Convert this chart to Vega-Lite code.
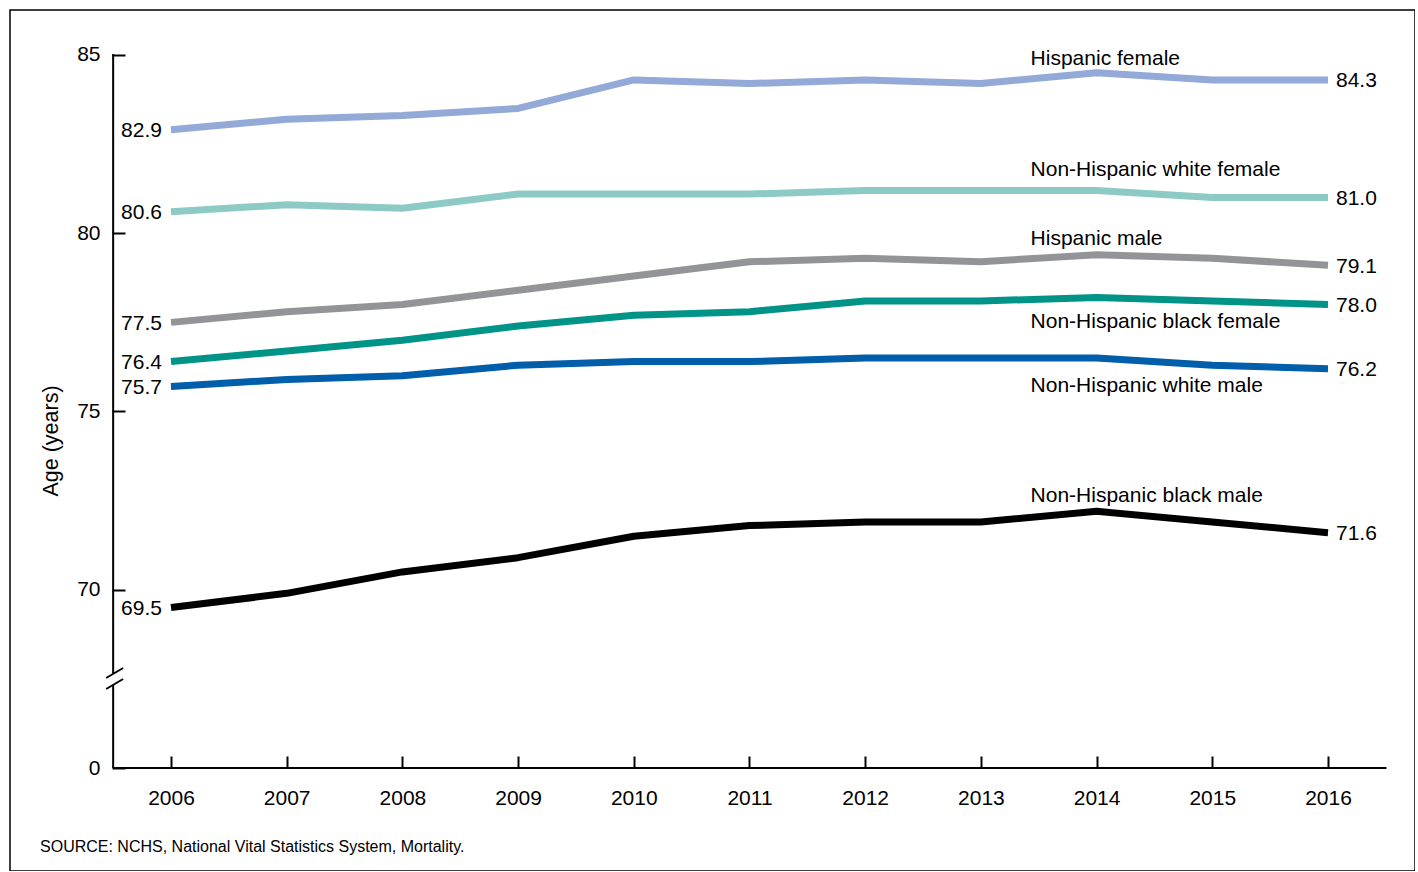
{
  "$schema": "https://vega.github.io/schema/vega-lite/v6.json",
  "autosize": {"type": "none"},
  "padding": {"left": 10, "top": 10, "right": 0, "bottom": 0},
  "width": 1405,
  "height": 861,
  "background": "white",
  "config": {
    "view": {"stroke": "black", "strokeWidth": 1.5},
    "font": "Liberation Sans",
    "text": {"font": "Liberation Sans", "fontSize": 21, "color": "black"},
    "axis": {"labelFont": "Liberation Sans", "titleFont": "Liberation Sans", "labelColor": "black", "titleColor": "black"}
  },
  "datasets": {
    "life": [
      {"year": 2006, "series": "Hispanic female", "age": 82.9},
      {"year": 2007, "series": "Hispanic female", "age": 83.2},
      {"year": 2008, "series": "Hispanic female", "age": 83.3},
      {"year": 2009, "series": "Hispanic female", "age": 83.5},
      {"year": 2010, "series": "Hispanic female", "age": 84.3},
      {"year": 2011, "series": "Hispanic female", "age": 84.2},
      {"year": 2012, "series": "Hispanic female", "age": 84.3},
      {"year": 2013, "series": "Hispanic female", "age": 84.2},
      {"year": 2014, "series": "Hispanic female", "age": 84.5},
      {"year": 2015, "series": "Hispanic female", "age": 84.3},
      {"year": 2016, "series": "Hispanic female", "age": 84.3},
      {"year": 2006, "series": "Non-Hispanic white female", "age": 80.6},
      {"year": 2007, "series": "Non-Hispanic white female", "age": 80.8},
      {"year": 2008, "series": "Non-Hispanic white female", "age": 80.7},
      {"year": 2009, "series": "Non-Hispanic white female", "age": 81.1},
      {"year": 2010, "series": "Non-Hispanic white female", "age": 81.1},
      {"year": 2011, "series": "Non-Hispanic white female", "age": 81.1},
      {"year": 2012, "series": "Non-Hispanic white female", "age": 81.2},
      {"year": 2013, "series": "Non-Hispanic white female", "age": 81.2},
      {"year": 2014, "series": "Non-Hispanic white female", "age": 81.2},
      {"year": 2015, "series": "Non-Hispanic white female", "age": 81.0},
      {"year": 2016, "series": "Non-Hispanic white female", "age": 81.0},
      {"year": 2006, "series": "Hispanic male", "age": 77.5},
      {"year": 2007, "series": "Hispanic male", "age": 77.8},
      {"year": 2008, "series": "Hispanic male", "age": 78.0},
      {"year": 2009, "series": "Hispanic male", "age": 78.4},
      {"year": 2010, "series": "Hispanic male", "age": 78.8},
      {"year": 2011, "series": "Hispanic male", "age": 79.2},
      {"year": 2012, "series": "Hispanic male", "age": 79.3},
      {"year": 2013, "series": "Hispanic male", "age": 79.2},
      {"year": 2014, "series": "Hispanic male", "age": 79.4},
      {"year": 2015, "series": "Hispanic male", "age": 79.3},
      {"year": 2016, "series": "Hispanic male", "age": 79.1},
      {"year": 2006, "series": "Non-Hispanic black female", "age": 76.4},
      {"year": 2007, "series": "Non-Hispanic black female", "age": 76.7},
      {"year": 2008, "series": "Non-Hispanic black female", "age": 77.0},
      {"year": 2009, "series": "Non-Hispanic black female", "age": 77.4},
      {"year": 2010, "series": "Non-Hispanic black female", "age": 77.7},
      {"year": 2011, "series": "Non-Hispanic black female", "age": 77.8},
      {"year": 2012, "series": "Non-Hispanic black female", "age": 78.1},
      {"year": 2013, "series": "Non-Hispanic black female", "age": 78.1},
      {"year": 2014, "series": "Non-Hispanic black female", "age": 78.2},
      {"year": 2015, "series": "Non-Hispanic black female", "age": 78.1},
      {"year": 2016, "series": "Non-Hispanic black female", "age": 78.0},
      {"year": 2006, "series": "Non-Hispanic white male", "age": 75.7},
      {"year": 2007, "series": "Non-Hispanic white male", "age": 75.9},
      {"year": 2008, "series": "Non-Hispanic white male", "age": 76.0},
      {"year": 2009, "series": "Non-Hispanic white male", "age": 76.3},
      {"year": 2010, "series": "Non-Hispanic white male", "age": 76.4},
      {"year": 2011, "series": "Non-Hispanic white male", "age": 76.4},
      {"year": 2012, "series": "Non-Hispanic white male", "age": 76.5},
      {"year": 2013, "series": "Non-Hispanic white male", "age": 76.5},
      {"year": 2014, "series": "Non-Hispanic white male", "age": 76.5},
      {"year": 2015, "series": "Non-Hispanic white male", "age": 76.3},
      {"year": 2016, "series": "Non-Hispanic white male", "age": 76.2},
      {"year": 2006, "series": "Non-Hispanic black male", "age": 69.5},
      {"year": 2007, "series": "Non-Hispanic black male", "age": 69.9},
      {"year": 2008, "series": "Non-Hispanic black male", "age": 70.5},
      {"year": 2009, "series": "Non-Hispanic black male", "age": 70.9},
      {"year": 2010, "series": "Non-Hispanic black male", "age": 71.5},
      {"year": 2011, "series": "Non-Hispanic black male", "age": 71.8},
      {"year": 2012, "series": "Non-Hispanic black male", "age": 71.9},
      {"year": 2013, "series": "Non-Hispanic black male", "age": 71.9},
      {"year": 2014, "series": "Non-Hispanic black male", "age": 72.2},
      {"year": 2015, "series": "Non-Hispanic black male", "age": 71.9},
      {"year": 2016, "series": "Non-Hispanic black male", "age": 71.6}
    ],
    "note": [{"note": "SOURCE: NCHS, National Vital Statistics System, Mortality."}]
  },
  "layer": [
    {
      "data": {"name": "life"},
      "mark": {"type": "line", "strokeCap": "butt", "strokeJoin": "round"},
      "encoding": {
        "x": {
          "field": "year", "type": "quantitative",
          "scale": {"domain": [2004.6085, 2016.752], "nice": false, "zero": false},
          "axis": {
            "orient": "bottom", "offset": -103, "values": [2006, 2007, 2008, 2009, 2010, 2011, 2012, 2013, 2014, 2015, 2016],
            "format": "d", "domain": false, "grid": false, "tickSize": -12, "tickWidth": 2, "tickColor": "black",
            "labelFontSize": 21, "labelPadding": 31, "title": null
          }
        },
        "y": {
          "field": "age", "type": "quantitative",
          "scale": {"domain": [62.111, 86.262], "nice": false, "zero": false},
          "axis": {
            "orient": "left", "offset": -102, "values": [65, 70, 75, 80, 85],
            "labelExpr": "datum.value == 65 ? '0' : datum.label",
            "domain": false, "grid": false, "tickSize": -13, "tickWidth": 2, "tickColor": "black",
            "labelFontSize": 21, "labelPadding": 25,
            "title": "Age (years)", "titleFontSize": 21.5, "titleFontWeight": "normal", "titlePadding": 14
          }
        },
        "color": {
          "field": "series", "type": "nominal", "legend": null,
          "scale": {
            "domain": ["Hispanic female", "Non-Hispanic white female", "Hispanic male", "Non-Hispanic black female", "Non-Hispanic white male", "Non-Hispanic black male"],
            "range": ["#93A9D8", "#8DCAC6", "#939497", "#009488", "#005EAA", "#000000"]
          }
        },
        "strokeWidth": {
          "field": "series", "type": "nominal", "legend": null,
          "scale": {
            "domain": ["Hispanic female", "Non-Hispanic white female", "Hispanic male", "Non-Hispanic black female", "Non-Hispanic white male", "Non-Hispanic black male"],
            "range": [7, 7, 7, 7, 7, 8.5]
          }
        }
      }
    },
    {
      "data": {"values": [{}]},
      "mark": {"type": "rule", "color": "black", "strokeWidth": 2},
      "encoding": {"x": {"datum": 2005.5}, "x2": {"datum": 2016.505}, "y": {"datum": 65}}
    },
    {
      "data": {"values": [{}]},
      "mark": {"type": "rule", "color": "black", "strokeWidth": 2},
      "encoding": {"x": {"datum": 2005.5}, "y": {"datum": 65}, "y2": {"datum": 67.33}}
    },
    {
      "data": {"values": [{}]},
      "mark": {"type": "rule", "color": "black", "strokeWidth": 2},
      "encoding": {"x": {"datum": 2005.5}, "y": {"datum": 67.64}, "y2": {"datum": 85.03}}
    },
    {
      "data": {"values": [{}]},
      "mark": {"type": "rule", "color": "black", "strokeWidth": 2},
      "encoding": {"x": {"datum": 2005.4395}, "x2": {"datum": 2005.5864}, "y": {"datum": 67.5245}, "y2": {"datum": 67.805}}
    },
    {
      "data": {"values": [{}]},
      "mark": {"type": "rule", "color": "black", "strokeWidth": 2},
      "encoding": {"x": {"datum": 2005.4395}, "x2": {"datum": 2005.5864}, "y": {"datum": 67.216}, "y2": {"datum": 67.4965}}
    },
    {
      "data": {"name": "life"},
      "transform": [{"filter": "datum.year == 2006"}],
      "mark": {"type": "text", "align": "right", "baseline": "middle", "dx": -9, "dy": 1.5},
      "encoding": {
        "x": {"field": "year", "type": "quantitative"},
        "y": {"field": "age", "type": "quantitative"},
        "text": {"field": "age", "type": "quantitative", "format": ".1f"}
      }
    },
    {
      "data": {"name": "life"},
      "transform": [{"filter": "datum.year == 2016"}],
      "mark": {"type": "text", "align": "left", "baseline": "middle", "dx": 8, "dy": 1.5},
      "encoding": {
        "x": {"field": "year", "type": "quantitative"},
        "y": {"field": "age", "type": "quantitative"},
        "text": {"field": "age", "type": "quantitative", "format": ".1f"}
      }
    },
    {
      "data": {"name": "life"},
      "transform": [{"filter": "datum.year == 2014 && datum.series == 'Hispanic female'"}],
      "mark": {"type": "text", "align": "left", "baseline": "alphabetic", "dx": -66, "dy": -8},
      "encoding": {"x": {"field": "year", "type": "quantitative"}, "y": {"field": "age", "type": "quantitative"}, "text": {"field": "series"}}
    },
    {
      "data": {"name": "life"},
      "transform": [{"filter": "datum.year == 2014 && datum.series == 'Non-Hispanic white female'"}],
      "mark": {"type": "text", "align": "left", "baseline": "alphabetic", "dx": -66, "dy": -14},
      "encoding": {"x": {"field": "year", "type": "quantitative"}, "y": {"field": "age", "type": "quantitative"}, "text": {"field": "series"}}
    },
    {
      "data": {"name": "life"},
      "transform": [{"filter": "datum.year == 2014 && datum.series == 'Hispanic male'"}],
      "mark": {"type": "text", "align": "left", "baseline": "alphabetic", "dx": -66, "dy": -10},
      "encoding": {"x": {"field": "year", "type": "quantitative"}, "y": {"field": "age", "type": "quantitative"}, "text": {"field": "series"}}
    },
    {
      "data": {"name": "life"},
      "transform": [{"filter": "datum.year == 2014 && datum.series == 'Non-Hispanic black female'"}],
      "mark": {"type": "text", "align": "left", "baseline": "alphabetic", "dx": -66, "dy": 31},
      "encoding": {"x": {"field": "year", "type": "quantitative"}, "y": {"field": "age", "type": "quantitative"}, "text": {"field": "series"}}
    },
    {
      "data": {"name": "life"},
      "transform": [{"filter": "datum.year == 2014 && datum.series == 'Non-Hispanic white male'"}],
      "mark": {"type": "text", "align": "left", "baseline": "alphabetic", "dx": -66, "dy": 34},
      "encoding": {"x": {"field": "year", "type": "quantitative"}, "y": {"field": "age", "type": "quantitative"}, "text": {"field": "series"}}
    },
    {
      "data": {"name": "life"},
      "transform": [{"filter": "datum.year == 2014 && datum.series == 'Non-Hispanic black male'"}],
      "mark": {"type": "text", "align": "left", "baseline": "alphabetic", "dx": -66, "dy": -9},
      "encoding": {"x": {"field": "year", "type": "quantitative"}, "y": {"field": "age", "type": "quantitative"}, "text": {"field": "series"}}
    },
    {
      "data": {"name": "note"},
      "mark": {"type": "text", "align": "left", "baseline": "alphabetic", "fontSize": 16},
      "encoding": {"x": {"datum": 2004.868}, "y": {"datum": 62.64}, "text": {"field": "note"}}
    }
  ]
}
